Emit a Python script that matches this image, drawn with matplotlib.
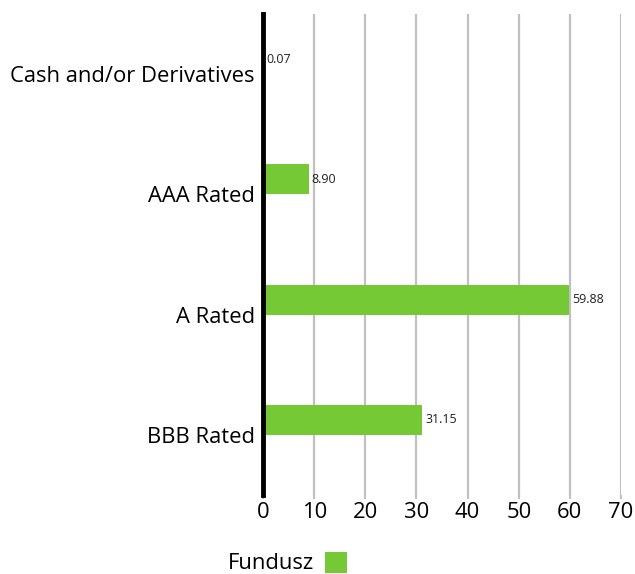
import matplotlib.pyplot as plt
import numpy as np

categories = ['Cash and/or Derivatives', 'AAA Rated', 'A Rated', 'BBB Rated']
fundusz = [0.07, 8.90, 59.88, 31.15]
series_name = 'Fundusz'

plt.rcParams['font.family'] = ['Open Sans', 'DejaVu Sans']

fig = plt.figure(figsize=(6.35, 5.74), dpi=100)
ax = fig.add_axes([263/635, 1-495/574, (621-263)/635, (495-14)/574])

green = '#74c935'
y = np.arange(len(categories))
bar_h = 0.25
bars = ax.barh(y - 0.125, fundusz, bar_h, color=green, zorder=3, label=series_name)

for yi, v in zip(y, fundusz):
    ax.text(v + 0.6, yi - 0.125, '%.2f' % v, va='center', ha='left', fontsize=9, color='#222222', zorder=4)

ax.set_xlim(0, 70)
ax.set_ylim(len(categories) - 0.5, -0.5)
ax.set_yticks(y)
ax.set_yticklabels(categories, fontsize=15.8)
ax.set_xticks(np.arange(0, 71, 10))
ax.tick_params(axis='x', labelsize=15.8, length=3, color='#c0c0c0', width=1.5, pad=2)
ax.tick_params(axis='y', length=0, pad=6)
ax.grid(axis='x', color='#c0c0c0', linewidth=1.6, zorder=0)
ax.set_axisbelow(True)
for s in ['top', 'right', 'bottom']:
    ax.spines[s].set_visible(False)
ax.spines['left'].set_linewidth(3.5)
ax.spines['left'].set_zorder(5)

leg = fig.legend(handles=[bars], labels=[series_name], loc='center', bbox_to_anchor=(287/635, 1-563/574),
                 frameon=False, fontsize=15.8, markerfirst=False, handlelength=1.0, handleheight=1.1,
                 handletextpad=0.5, borderpad=0.1)

fig.savefig('out.png', dpi=100)
